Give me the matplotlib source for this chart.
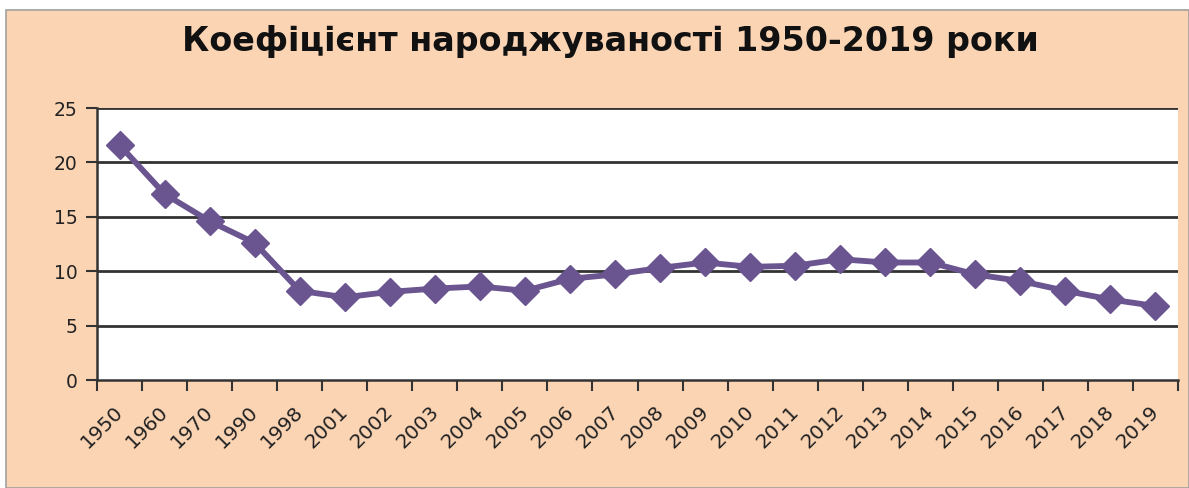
import matplotlib
matplotlib.use("Agg")
import matplotlib.pyplot as plt
from matplotlib.patches import Rectangle
import matplotlib.transforms as mtransforms
import numpy as np

years = ["1950", "1960", "1970", "1990", "1998", "2001", "2002", "2003",
         "2004", "2005", "2006", "2007", "2008", "2009", "2010", "2011",
         "2012", "2013", "2014", "2015", "2016", "2017", "2018", "2019"]
birth_rate = [21.6, 17.1, 14.6, 12.6, 8.2, 7.6, 8.1, 8.4, 8.6, 8.2, 9.3, 9.7,
              10.3, 10.8, 10.4, 10.5, 11.1, 10.8, 10.8, 9.7, 9.1, 8.2, 7.4, 6.8]
y_ticks = [0, 5, 10, 15, 20, 25]
title = "Коефіцієнт народжуваності 1950-2019 роки"

W, H = 1189, 488
peach = "#FBD4B4"
purple = "#6B5590"

fig = plt.figure(figsize=(W / 100, H / 100), dpi=100)
fig.patch.set_facecolor("white")
# peach chart area with thin grey frame
fig.patches.append(Rectangle((6 / W, 0), 1 - 6 / W, 1 - 10 / H, transform=fig.transFigure,
                             facecolor=peach, edgecolor="#A0A0A0", linewidth=1.2, zorder=-5))

ax = fig.add_axes([97 / W, 1 - 380 / H, (1178 - 97) / W, (380 - 108) / H])
ax.set_zorder(2)
ax.set_facecolor("white")

x = np.arange(len(years))
ax.plot(x, birth_rate, color=purple, linewidth=4.2, marker="D", markersize=14,
        markerfacecolor=purple, markeredgecolor=purple, zorder=3, clip_on=False)

ax.set_xlim(-0.5, len(years) - 0.5)
ax.set_ylim(0, 25)
ax.set_yticks(y_ticks)
ax.set_yticklabels([str(v) for v in y_ticks], fontsize=13.5, color="#222222")
for v in y_ticks[1:]:
    ax.axhline(v, color="#333333", linewidth=2.0, zorder=1)

# category ticks on boundaries, labels at centres
ax.set_xticks(np.arange(len(years) + 1) - 0.5)
ax.set_xticklabels([])
ax.set_xticks(x, minor=True)
ax.set_xticklabels(years, minor=True, rotation=45, ha="right", va="top",
                   rotation_mode="anchor", fontsize=14.5, color="#222222")
ax.tick_params(axis="x", which="major", length=8, width=1.5, direction="out", color="#333333")
ax.tick_params(axis="x", which="minor", length=0, pad=16)
ax.tick_params(axis="y", length=8, width=1.5, direction="out", color="#333333", pad=6)

shift = mtransforms.ScaledTranslation(-6 / 100, 0, fig.dpi_scale_trans)
for lbl in ax.get_xticklabels(minor=True):
    lbl.set_transform(lbl.get_transform() + shift)

for s in ["top", "right"]:
    ax.spines[s].set_visible(False)
ax.spines["left"].set_color("#333333")
ax.spines["left"].set_linewidth(1.8)
ax.spines["bottom"].set_color("#333333")
ax.spines["bottom"].set_linewidth(1.8)

fig.text(0.513, 1 - 42 / H, title, ha="center", va="center",
         fontsize=24, fontweight="bold", color="#111111")

fig.savefig("out.png", dpi=100, facecolor=fig.get_facecolor())
